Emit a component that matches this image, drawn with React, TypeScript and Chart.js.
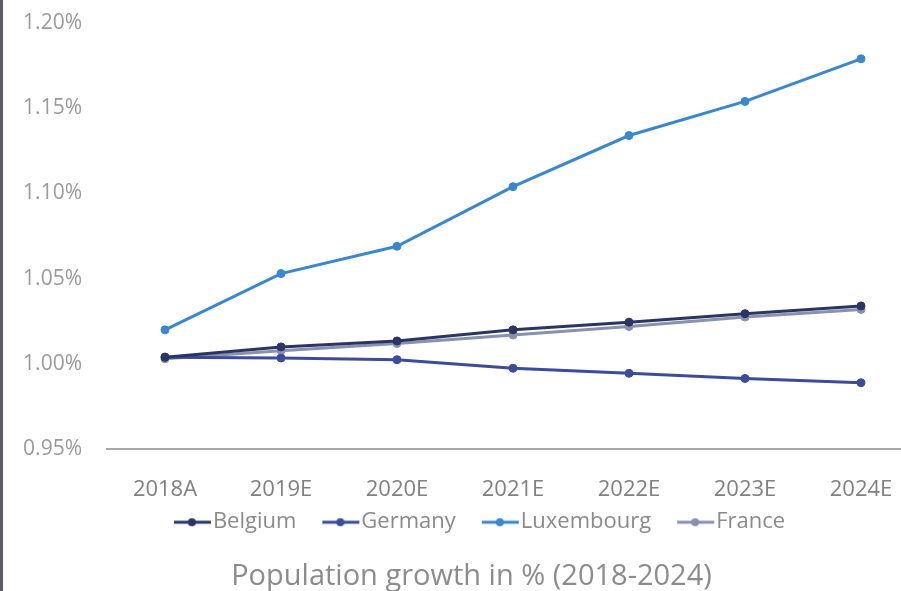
import { useEffect, useRef } from "react";
import { Chart, registerables } from "chart.js";
Chart.register(...registerables);

const categories = ["2018A", "2019E", "2020E", "2021E", "2022E", "2023E", "2024E"];
const seriesNames = ["Belgium", "Germany", "Luxembourg", "France"];
const belgium = [1.004, 1.010, 1.0135, 1.020, 1.0245, 1.0295, 1.034];
const germany = [1.004, 1.0035, 1.0025, 0.9975, 0.9945, 0.9915, 0.989];
const luxembourg = [1.020, 1.053, 1.069, 1.104, 1.134, 1.154, 1.179];
const france = [1.003, 1.0078, 1.012, 1.017, 1.022, 1.0275, 1.032];
const yMin = 0.95;
const yMax = 1.2;
const yStep = 0.05;
const chartTitle = "Population growth in % (2018-2024)";

const colors = ["#2c3464", "#3c4b9b", "#3a87cf", "#8891ad"];
const FONT = "'Open Sans', 'DejaVu Sans', sans-serif";
const LEGEND_FONT = 22;
const BOX_W = 44;
const CANVAS_W = 943;

function makeMarker(color: string): HTMLCanvasElement {
  const w = 64;
  const c = document.createElement("canvas");
  c.width = w;
  c.height = 10;
  const ctx = c.getContext("2d")!;
  ctx.strokeStyle = color;
  ctx.lineWidth = 3;
  ctx.beginPath();
  ctx.moveTo(w - 38, 5);
  ctx.lineTo(w - 1, 5);
  ctx.stroke();
  ctx.fillStyle = color;
  ctx.beginPath();
  ctx.arc(w - 20, 5, 4, 0, Math.PI * 2);
  ctx.fill();
  return c;
}

export default function App() {
  const ref = useRef<HTMLCanvasElement | null>(null);
  useEffect(() => {
    document.body.style.margin = "0";
    const values = [belgium, germany, luxembourg, france];
    const markers = colors.map(makeMarker);
    const chart = new Chart(ref.current!, {
      type: "line",
      data: {
        labels: categories,
        datasets: seriesNames.map((name, i) => ({
          label: name,
          data: values[i],
          borderColor: colors[i],
          backgroundColor: colors[i],
          borderWidth: 3,
          pointRadius: 4,
          pointBorderWidth: 1,
          pointBackgroundColor: colors[i],
          pointBorderColor: colors[i],
          tension: 0,
        })),
      },
      options: {
        responsive: false,
        animation: false,
        layout: { padding: { top: 23, right: 0, left: 0, bottom: 0 } },
        scales: {
          x: {
            offset: true,
            grid: { display: false, drawTicks: false },
            border: { display: true, color: "#a8a8a8", width: 2 },
            ticks: { color: "#808080", font: { family: FONT, size: 22 }, padding: 27 },
            afterFit: (s: any) => {
              s.height = 52;
            },
          },
          y: {
            min: yMin,
            max: yMax,
            grid: { display: false, drawTicks: true, tickLength: 25 },
            border: { display: false },
            afterFit: (s: any) => {
              s.width = 107;
            },
            ticks: {
              stepSize: yStep,
              padding: 0,
              color: "#9a9a9a",
              font: { family: FONT, size: 21 },
              callback: (v: any) => Number(v).toFixed(2) + "%",
            },
          },
          yRight: {
            position: "right",
            min: yMin,
            max: yMax,
            grid: { display: false, drawTicks: false },
            border: { display: false },
            ticks: { display: false },
            afterFit: (s: any) => {
              s.width = CANVAS_W - 919;
            },
          },
        },
        plugins: {
          legend: {
            position: "bottom",
            labels: {
              usePointStyle: true,
              pointStyleWidth: BOX_W,
              padding: 10,
              color: "#8a8a8a",
              font: { family: FONT, size: LEGEND_FONT },
              generateLabels: (c: any) =>
                c.data.datasets.map((d: any, i: number) => ({
                  text: d.label,
                  fillStyle: colors[i],
                  strokeStyle: colors[i],
                  lineWidth: 0,
                  pointStyle: markers[i],
                  hidden: false,
                  datasetIndex: i,
                  fontColor: "#8a8a8a",
                })),
            },
          },
          title: {
            display: true,
            text: chartTitle,
            position: "bottom",
            color: "#8c8c8c",
            font: { family: FONT, size: 29, weight: "normal" },
            padding: { top: 16, bottom: -3 },
          },
          tooltip: { enabled: false },
        },
      },
    });
    return () => chart.destroy();
  }, []);
  return (
    <div
      style={{
        position: "fixed",
        left: 0,
        top: 0,
        width: 901,
        height: 591,
        overflow: "hidden",
        background: "#fff",
      }}
    >
      <canvas ref={ref} width={CANVAS_W} height={591} style={{ display: "block" }} />
      <div
        style={{
          position: "absolute",
          left: 0,
          top: 0,
          width: 3,
          height: 591,
          background: "#5c5c6c",
        }}
      />
    </div>
  );
}
